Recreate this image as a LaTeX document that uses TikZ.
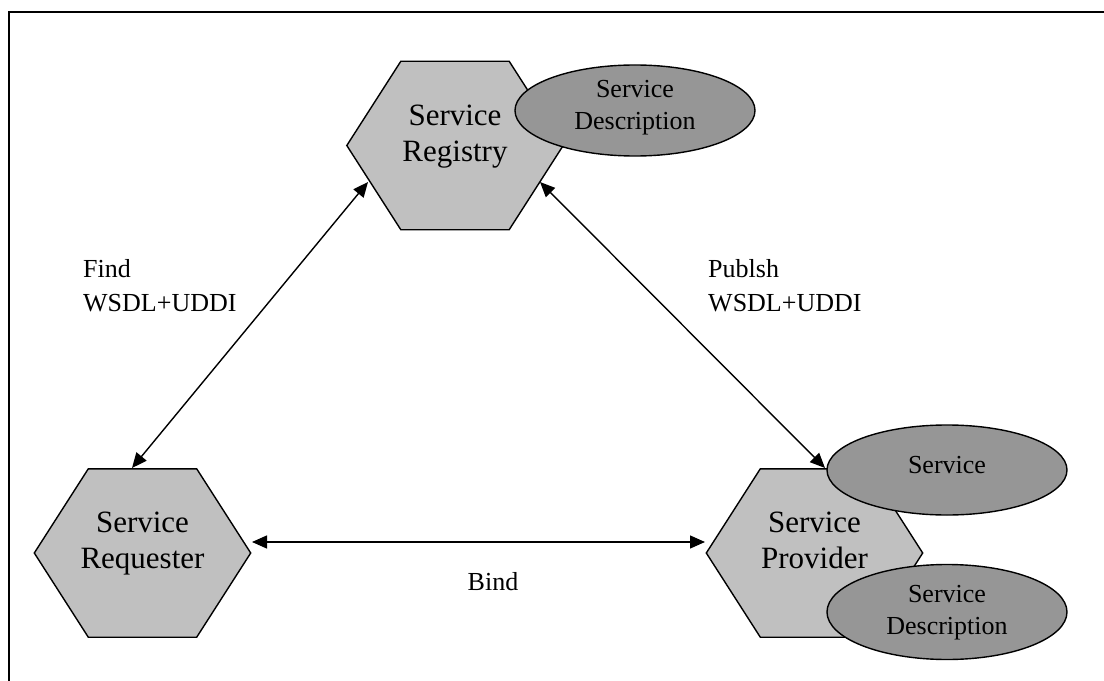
\documentclass[tikz,border=0pt]{standalone}
\usepackage{fontspec}
\setmainfont{Liberation Serif}
\usetikzlibrary{arrows.meta,calc,shapes.geometric}
\definecolor{hexgray}{RGB}{192,192,192}
\definecolor{ellgray}{RGB}{150,150,150}
\begin{document}
\begin{tikzpicture}[x=1bp,y=-1bp,
  hexbox/.style={draw=none, minimum width=216bp, minimum height=168bp, inner sep=0},
  hexpoly/.style={fill=hexgray, draw=black, line width=1.4bp, line join=miter},
  hextext/.style={font=\fontsize{31bp}{36bp}\selectfont, align=center, inner sep=0},
  ell/.style={ellipse, fill=ellgray, draw=black, line width=1.4bp, inner sep=0, minimum width=240bp},
  elltext/.style={font=\fontsize{26bp}{32bp}\selectfont, align=center, inner sep=0},
  lbl/.style={font=\fontsize{26bp}{34bp}\selectfont, align=left, inner sep=0},
  link/.style={line width=1.4bp, {Triangle[length=15bp,width=13bp]}-{Triangle[length=15bp,width=13bp]}},
  frame/.style={line width=1.6bp}
]
\useasboundingbox (0,0) rectangle (1104,681);
\draw[frame] (9,681) -- (9,12) -- (1104,12);

% Service Registry
\node[hexbox] (reg) at (455,145.5) {};
\draw[hexpoly] ([xshift=54bp]reg.north west) -- ([xshift=-54bp]reg.north east) -- (reg.east)
  -- ([xshift=-54bp]reg.south east) -- ([xshift=54bp]reg.south west) -- (reg.west) -- cycle;
\node[hextext] (regtext) at (455,136.75) {Service\\Registry};
\node[ell, minimum height=91bp] (regdesc) at (635,110.5) {};
\node[elltext] (regdesctext) at (635,107.9) {Service\\Description};

% Service Requester
\node[hexbox] (req) at (142.5,553) {};
\draw[hexpoly] ([xshift=54bp]req.north west) -- ([xshift=-54bp]req.north east) -- (req.east)
  -- ([xshift=-54bp]req.south east) -- ([xshift=54bp]req.south west) -- (req.west) -- cycle;
\node[hextext] (reqtext) at (142.5,543.75) {Service\\Requester};

% Service Provider
\node[hexbox] (prov) at (814.5,553) {};
\draw[hexpoly] ([xshift=54bp]prov.north west) -- ([xshift=-54bp]prov.north east) -- (prov.east)
  -- ([xshift=-54bp]prov.south east) -- ([xshift=54bp]prov.south west) -- (prov.west) -- cycle;
\node[hextext] (provtext) at (814.5,540.65) {Service\\Provider};
\node[ell, minimum height=90bp] (serv) at (947,470) {};
\node[elltext, anchor=base] (servtext) at (947,473) {Service};
\node[ell, minimum height=95bp] (provdesc) at (947,612) {};
\node[elltext] (provdesctext) at (947,612.9) {Service\\Description};

% Labels
\node[lbl, anchor=north west] (findlbl) at (83,259.2) {Find\\WSDL+UDDI};
\node[lbl, anchor=north west] (publbl) at (708,259.2) {Publsh\\WSDL+UDDI};
\node[lbl, anchor=base] (bindlbl) at (493,590) {Bind};

% Connectors
\draw[link] ($(reg.center)+(-87,36.5)$) -- ($(req.center)+(-10.5,-85)$);
\draw[link] ($(reg.center)+(85,36.5)$) -- ($(prov.center)+(10.5,-85)$);
\draw[link] ($(req.center)+(109.5,-11)$) -- ($(prov.center)+(-109.5,-11)$);
\end{tikzpicture}
\end{document}
